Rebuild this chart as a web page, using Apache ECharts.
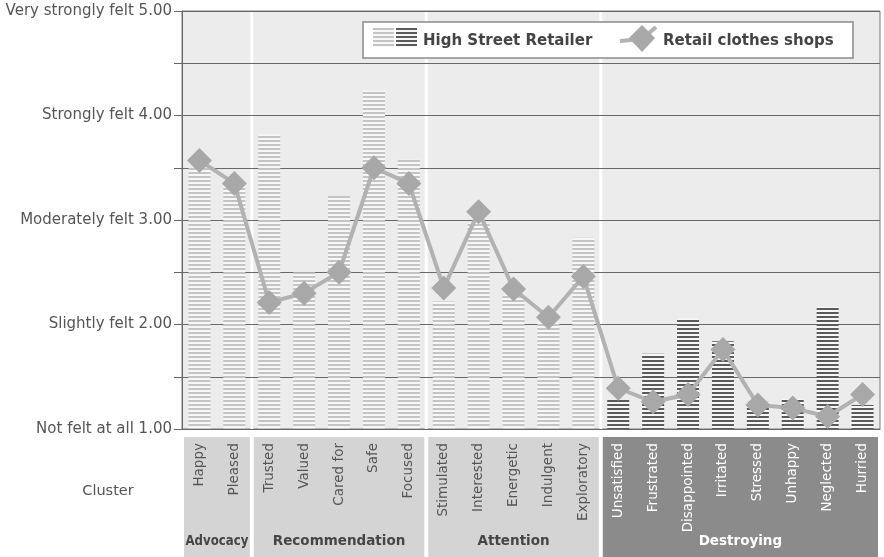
<!DOCTYPE html>
<html>
<head>
<meta charset="utf-8">
<script src="https://cdn.jsdelivr.net/npm/echarts@6/dist/echarts.min.js"></script>
<style>
  html, body { margin: 0; padding: 0; background: #fff; }
  #chart { width: 884px; height: 557px; }
</style>
</head>
<body>
<div id="chart"></div>
<script>
// Emotions, grouped into clusters
const categories = ['Happy', 'Pleased', 'Trusted', 'Valued', 'Cared for', 'Safe', 'Focused',
  'Stimulated', 'Interested', 'Energetic', 'Indulgent', 'Exploratory',
  'Unsatisfied', 'Frustrated', 'Disappointed', 'Irritated', 'Stressed', 'Unhappy', 'Neglected', 'Hurried'];
const clusterNames = ['Advocacy', 'Recommendation', 'Attention', 'Destroying'];
const clusterSizes = [2, 5, 5, 8];

// Mean felt intensity per emotion (1 = not felt at all ... 5 = very strongly felt)
const highStreetRetailer = [3.50, 3.32, 3.82, 2.50, 3.23, 4.24, 3.58,
  2.22, 2.97, 2.28, 2.02, 2.83,
  1.28, 1.72, 2.06, 1.84, 1.26, 1.29, 2.17, 1.23];
const retailClothesShops = [3.57, 3.35, 2.21, 2.30, 2.50, 3.50, 3.35,
  2.35, 3.08, 2.34, 2.07, 2.46,
  1.39, 1.26, 1.33, 1.76, 1.23, 1.20, 1.12, 1.33];

// Verbal anchors of the rating scale, for 1.00 .. 5.00
const yLevelNames = ['Not felt at all', 'Slightly felt', 'Moderately felt', 'Strongly felt', 'Very strongly felt'];

const FONT = 'DejaVu Sans';

// cluster index of every category
const clusterOf = [];
clusterSizes.forEach((n, k) => { for (let i = 0; i < n; i++) clusterOf.push(k); });
const NEGATIVE = 3;

// horizontal stripe fills for the bars
function stripes(lineColor) {
  const c = document.createElement('canvas');
  c.width = 4; c.height = 4;
  const g = c.getContext('2d');
  g.fillStyle = '#f7f7f7';
  g.fillRect(0, 0, 4, 4);
  g.fillStyle = lineColor;
  g.fillRect(0, 0, 4, 2);
  return { image: c, repeat: 'repeat' };
}
const lightStripes = stripes('#c4c4c4');
const darkStripes = stripes('#5a5a5a');

function textWidth(text, font) {
  const g = document.createElement('canvas').getContext('2d');
  g.font = font;
  return g.measureText(text).width;
}

const chart = echarts.init(document.getElementById('chart'), null, { renderer: 'canvas' });

chart.setOption({
  animation: false,
  grid: {
    left: 182, right: 4, top: 11, bottom: 128,
    show: true, backgroundColor: '#ececec', borderColor: '#7a7a7a', borderWidth: 1
  },
  xAxis: {
    type: 'category',
    data: categories,
    axisLine: { lineStyle: { color: '#666', width: 1 } },
    axisTick: { alignWithLabel: true, length: 8, lineStyle: { color: '#666' } },
    axisLabel: {
      rotate: 90, margin: 14, fontSize: 13.5, fontFamily: FONT,
      interval: 0,
      color: (v, i) => clusterOf[i] === NEGATIVE ? '#ffffff' : '#555555'
    },
    splitLine: { show: false }
  },
  yAxis: {
    type: 'value',
    min: 1, max: 5, interval: 0.5,
    z: 1.5,
    axisLine: { show: true, lineStyle: { color: '#666' } },
    axisTick: { show: true, length: 8, lineStyle: { color: '#666' } },
    axisLabel: {
      fontSize: 15, fontFamily: FONT, color: '#555', margin: 10,
      formatter: v => Number.isInteger(v) ? yLevelNames[v - 1] + ' ' + v.toFixed(2) : ''
    },
    splitLine: { lineStyle: { color: '#686868', width: 1 } }
  },
  series: [
    {
      name: 'High Street Retailer',
      type: 'bar',
      barWidth: 22,
      z: 2,
      data: highStreetRetailer.map((v, i) => ({
        value: v,
        itemStyle: { color: clusterOf[i] === NEGATIVE ? darkStripes : lightStripes }
      }))
    },
    {
      name: 'Retail clothes shops',
      type: 'line',
      z: 3,
      symbol: 'diamond',
      symbolSize: 25,
      lineStyle: { color: '#b2b2b2', width: 4 },
      itemStyle: { color: '#a8a8a8' },
      data: retailClothesShops
    }
  ]
});

// Cluster bands, separators and the legend, placed from the axis scales
function decorate() {
  const xc = i => chart.convertToPixel({ xAxisIndex: 0 }, categories[i]);
  const band = xc(1) - xc(0);
  const leftEdge = i => xc(i) - band / 2;
  const yTop = chart.convertToPixel({ yAxisIndex: 0 }, 5);
  const yBot = chart.convertToPixel({ yAxisIndex: 0 }, 1);
  const H = chart.getHeight();
  const clusterFont = 'bold 13.5px "' + FONT + '"';

  const elements = [];
  let start = 0;
  clusterNames.forEach((name, k) => {
    const n = clusterSizes[k];
    const x0 = leftEdge(start) + 2;
    const w = band * n - 4;
    const dark = k === NEGATIVE;
    const tw = textWidth(name, clusterFont);
    const squeeze = Math.min(1, (w - 3) / tw);
    elements.push({
      type: 'rect', z: -1,
      shape: { x: x0, y: yBot + 8, width: w, height: H - yBot - 8 },
      style: { fill: dark ? '#8b8b8b' : '#d4d4d4' }
    });
    elements.push({
      type: 'text', z: 5,
      x: x0 + w / 2, y: H - 16,
      scaleX: squeeze,
      style: {
        x: 0, y: 0, text: name,
        fill: dark ? '#ffffff' : '#454545',
        font: clusterFont,
        align: 'center', verticalAlign: 'middle'
      }
    });
    if (start > 0) {
      elements.push({
        type: 'rect', z: 1,
        shape: { x: leftEdge(start) - 1.5, y: yTop, width: 3, height: yBot - yTop },
        style: { fill: '#ffffff' }
      });
    }
    start += n;
  });

  elements.push({
    type: 'text', z: 5,
    style: {
      x: 108, y: 491, text: 'Cluster',
      fill: '#555', font: '14.5px "' + FONT + '"',
      align: 'center', verticalAlign: 'middle'
    }
  });

  // legend
  const lg = { x: 363, y: 22, w: 490, h: 36 };
  elements.push({
    type: 'rect', z: 10,
    shape: { x: lg.x, y: lg.y, width: lg.w, height: lg.h },
    style: { fill: '#ffffff', stroke: '#8a8a8a', lineWidth: 1.5 }
  });
  elements.push({
    type: 'rect', z: 11,
    shape: { x: 373, y: 28, width: 21, height: 19 },
    style: { fill: lightStripes }
  });
  elements.push({
    type: 'rect', z: 11,
    shape: { x: 396, y: 28, width: 21, height: 19 },
    style: { fill: darkStripes }
  });
  elements.push({
    type: 'text', z: 11,
    style: {
      x: 423, y: 41, text: 'High Street Retailer',
      fill: '#444', font: 'bold 15px "' + FONT + '"',
      align: 'left', verticalAlign: 'middle'
    }
  });
  elements.push({
    type: 'polyline', z: 11,
    shape: { points: [[620, 41], [642, 39], [656, 27]] },
    style: { stroke: '#b2b2b2', lineWidth: 4, fill: null }
  });
  elements.push({
    type: 'polygon', z: 12,
    shape: { points: [[642, 25], [655, 38], [642, 52], [629, 38]] },
    style: { fill: '#a8a8a8' }
  });
  elements.push({
    type: 'text', z: 11,
    style: {
      x: 663, y: 41, text: 'Retail clothes shops',
      fill: '#444', font: 'bold 15px "' + FONT + '"',
      align: 'left', verticalAlign: 'middle'
    }
  });

  chart.setOption({ graphic: { elements } });
}
decorate();
</script>
</body>
</html>
